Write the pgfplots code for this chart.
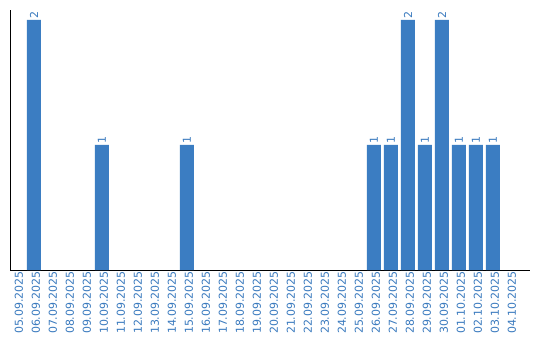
\documentclass[border=0pt]{standalone}
\usepackage{fontspec}
\setmainfont{DejaVu Sans}
\usepackage{pgfplots}
\pgfplotsset{compat=1.18}
\definecolor{barblue}{RGB}{59,125,194}
\definecolor{txtblue}{RGB}{58,122,190}
\begin{document}
\begin{tikzpicture}
\path[use as bounding box] (-10bp,-70bp) rectangle (530bp,270bp);
\begin{axis}[
  at={(7bp,0)}, anchor=origin,
  scale only axis, width=520bp, height=260bp,
  xmin=-0.41, xmax=30.18, ymin=0, ymax=2.08,
  axis x line*=bottom, axis y line*=left,
  axis line style={black, line width=0.9bp, -},
  ytick=\empty,
  xtick={0,...,29},
  xticklabels={05.09.2025,06.09.2025,07.09.2025,08.09.2025,09.09.2025,10.09.2025,11.09.2025,12.09.2025,13.09.2025,14.09.2025,15.09.2025,16.09.2025,17.09.2025,18.09.2025,19.09.2025,20.09.2025,21.09.2025,22.09.2025,23.09.2025,24.09.2025,25.09.2025,26.09.2025,27.09.2025,28.09.2025,29.09.2025,30.09.2025,01.10.2025,02.10.2025,03.10.2025,04.10.2025},
  major tick length=0pt,
  xticklabel style={rotate=90, anchor=east, text=txtblue, font=\fontsize{11}{12}\selectfont, inner sep=1bp, yshift=-2bp},
  /pgf/number format/assume math mode=true,
  clip=false,
  ybar, bar width=14bp, bar shift=0pt,
  nodes near coords,
  every node near coord/.append style={rotate=90, anchor=west, text=txtblue, font=\fontsize{11}{12}\selectfont, inner sep=1bp},
]
\addplot[fill=barblue, draw=none] coordinates {
  (1,2) (5,1) (10,1) (21,1) (22,1) (23,2) (24,1) (25,2) (26,1) (27,1) (28,1)
};
\end{axis}
\end{tikzpicture}
\end{document}
